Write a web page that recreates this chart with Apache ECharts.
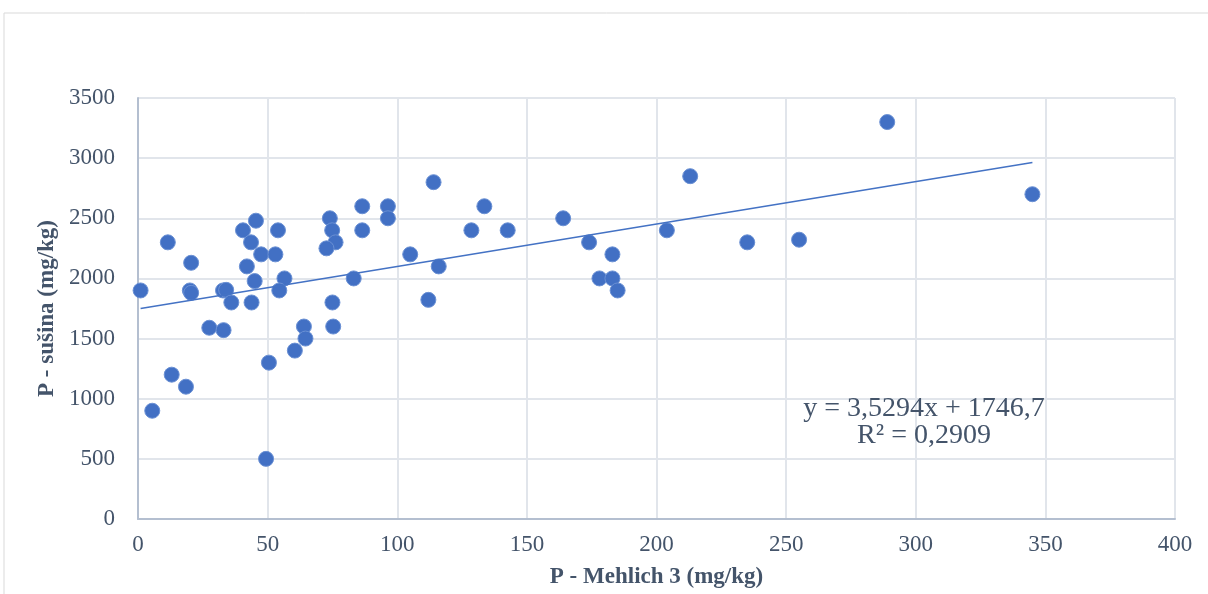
<!DOCTYPE html>
<html>
<head>
<meta charset="utf-8">
<script src="https://cdn.jsdelivr.net/npm/echarts@6/dist/echarts.min.js"></script>
<style>
html,body{margin:0;padding:0;background:#fff;}
#c{width:1208px;height:594px;}
</style>
</head>
<body>
<div id="c"></div>
<script>
// Data: P - Mehlich 3 (mg/kg) vs P - sušina (mg/kg)
const mehlich = [1, 5.5, 11.5, 13, 18.5, 20.5, 20, 20.5, 27.5, 33, 32.8, 34, 36, 40.5, 45.5, 43.6, 42, 47.5, 53, 54,
  45, 43.8, 56.5, 54.5, 50.5, 49.4, 60.5, 64, 64.6, 74, 74.9, 76.2, 72.7, 75, 75.3, 83.2, 86.5, 86.5, 96.4, 96.4,
  105, 112, 114, 116, 128.6, 133.6, 142.6, 164, 174, 183, 178, 183, 185, 204, 213, 235, 255, 289, 345];
const susina = [1900, 900, 2300, 1200, 1100, 2130, 1900, 1880, 1590, 1570, 1900, 1905, 1800, 2400, 2480, 2300, 2100, 2200, 2200, 2400,
  1978, 1800, 2000, 1900, 1300, 500, 1400, 1600, 1500, 2500, 2400, 2300, 2250, 1800, 1600, 2000, 2600, 2400, 2600, 2500,
  2200, 1822, 2800, 2100, 2400, 2600, 2400, 2500, 2300, 2200, 2000, 2000, 1900, 2400, 2850, 2300, 2322, 3300, 2700];
// Trendline coefficients as shown on the chart
const slope = 3.5294;
const intercept = 1746.7;
const equationText = 'y = 3,5294x + 1746,7';
const r2Text = 'R² = 0,2909';
const xTicks = [0, 50, 100, 150, 200, 250, 300, 350, 400];
const yTicks = [0, 500, 1000, 1500, 2000, 2500, 3000, 3500];

const points = mehlich.map((x, i) => [x, susina[i]]);
const xMin = Math.min(...mehlich), xMax = Math.max(...mehlich);
const trend = [[xMin, slope * xMin + intercept], [xMax, slope * xMax + intercept]];

const textColor = '#44546A';
const font = 'Liberation Serif, serif';

const chart = echarts.init(document.getElementById('c'), null, {renderer: 'canvas'});
chart.setOption({
  backgroundColor: '#ffffff',
  animation: false,
  textStyle: {fontFamily: font},
  grid: {left: 138, right: 33, top: 98, bottom: 75, containLabel: false},
  graphic: [{
    type: 'rect', shape: {x: 4, y: 13, width: 1400, height: 800},
    style: {fill: 'none', stroke: '#d9d9d9', lineWidth: 1}, z: -10, silent: true
  }, {
    type: 'text', x: 924, y: 395, z: 10,
    style: {text: equationText, font: '28px ' + font, fill: textColor, textAlign: 'center', textVerticalAlign: 'top'}
  }, {
    type: 'text', x: 924, y: 422, z: 10,
    style: {text: r2Text, font: '28px ' + font, fill: textColor, textAlign: 'center', textVerticalAlign: 'top'}
  }],
  xAxis: {
    type: 'value', min: xTicks[0], max: xTicks[xTicks.length - 1], interval: 50,
    name: 'P - Mehlich 3 (mg/kg)', nameLocation: 'middle', nameGap: 47,
    nameTextStyle: {fontFamily: font, fontSize: 23, fontWeight: 'bold', color: textColor},
    axisLine: {show: true, onZero: false, lineStyle: {color: '#b4bfd0', width: 2}},
    axisTick: {show: false},
    axisLabel: {fontFamily: font, fontSize: 23, color: textColor, margin: 14, formatter: v => String(v)},
    splitLine: {show: true, lineStyle: {color: '#e1e5eb', width: 2}}
  },
  yAxis: {
    type: 'value', min: yTicks[0], max: yTicks[yTicks.length - 1], interval: 500,
    name: 'P - sušina (mg/kg)', nameLocation: 'middle', nameGap: 76, nameRotate: 90,
    nameTextStyle: {fontFamily: font, fontSize: 23, fontWeight: 'bold', color: textColor},
    axisLine: {show: true, lineStyle: {color: '#b4bfd0', width: 2}},
    axisTick: {show: false},
    axisLabel: {fontFamily: font, fontSize: 23, color: textColor, margin: 23, formatter: v => String(v)},
    splitLine: {show: true, lineStyle: {color: '#e1e5eb', width: 2}}
  },
  series: [{
    type: 'scatter', data: points, symbolSize: 15, z: 3,
    itemStyle: {color: '#4270c4', borderColor: '#6a90d4', borderWidth: 1, opacity: 1}
  }, {
    type: 'line', data: trend, symbol: 'none', z: 4,
    lineStyle: {color: '#4472C4', width: 1.6}
  }]
});
</script>
</body>
</html>
